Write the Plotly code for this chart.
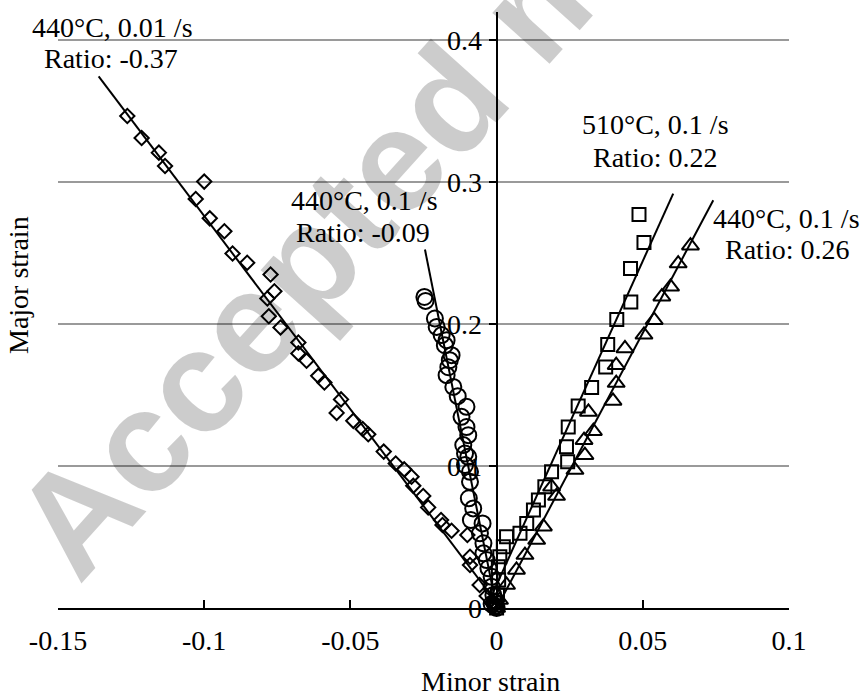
import plotly.graph_objects as go

# ---------------- data ----------------
# 440°C, 0.01 /s  (diamonds)
d1_minor = [-0.1263, -0.1214, -0.1155, -0.1134, -0.1000, -0.1029, -0.0981, -0.0931, -0.0903, -0.0853,
            -0.0773, -0.0760, -0.0784, -0.0779, -0.0739, -0.0678, -0.0678, -0.0650, -0.0610, -0.0589,
            -0.0532, -0.0547, -0.0490, -0.0458, -0.0439, -0.0386, -0.0345, -0.0316, -0.0291, -0.0285,
            -0.0251, -0.0234, -0.0190, -0.0185, -0.0154, -0.0100, -0.0091, -0.0091, -0.0058, -0.0034,
            -0.0017, -0.0008, 0.0]
d1_major = [0.3467, 0.3312, 0.3209, 0.3115, 0.3005, 0.2882, 0.2746, 0.2655, 0.2498, 0.2433,
            0.2350, 0.2232, 0.2181, 0.2056, 0.1977, 0.1871, 0.1794, 0.1742, 0.1636, 0.1589,
            0.1470, 0.1375, 0.1319, 0.1261, 0.1224, 0.1102, 0.1018, 0.0977, 0.0925, 0.0861,
            0.0789, 0.0709, 0.0620, 0.0585, 0.0544, 0.0514, 0.0361, 0.0303, 0.0162, 0.0085,
            0.0035, 0.0015, 0.0]

# 440°C, 0.1 /s  (circles, ratio -0.09)
c_minor = [-0.0247, -0.0243, -0.0211, -0.0205, -0.0188, -0.0171, -0.0177, -0.0154, -0.0160, -0.0165,
           -0.0171, -0.0148, -0.0133, -0.0103, -0.0120, -0.0103, -0.0097, -0.0114, -0.0108, -0.0097,
           -0.0108, -0.0091, -0.0091, -0.0095, -0.0080, -0.0088, -0.0048, -0.0057, -0.0045, -0.0045,
           -0.0034, -0.0028, -0.0017, -0.0017, -0.0011, -0.0007, -0.0017, -0.0004, 0.0]
c_major = [0.2192, 0.2164, 0.2040, 0.1981, 0.1923, 0.1887, 0.1852, 0.1782, 0.1746, 0.1697,
           0.1641, 0.1558, 0.1493, 0.1418, 0.1347, 0.1275, 0.1218, 0.1148, 0.1089, 0.1065,
           0.1007, 0.0960, 0.0889, 0.0773, 0.0702, 0.0620, 0.0596, 0.0526, 0.0456, 0.0385,
           0.0338, 0.0280, 0.0220, 0.0150, 0.0092, 0.0042, 0.0028, 0.0012, 0.0]

# 510°C, 0.1 /s  (squares, ratio 0.22)
s_minor = [0.0487, 0.0504, 0.0458, 0.0459, 0.0411, 0.0380, 0.0373, 0.0325, 0.0279, 0.0245,
           0.0239, 0.0243, 0.0188, 0.0165, 0.0143, 0.0126, 0.0103, 0.0080, 0.0034, 0.0023,
           0.0011, 0.0006, 0.0007, 0.0003, 0.0, 0.0]
s_major = [0.2773, 0.2575, 0.2392, 0.2157, 0.2033, 0.1857, 0.1699, 0.1554, 0.1423, 0.1276,
           0.1136, 0.1030, 0.0960, 0.0854, 0.0761, 0.0690, 0.0596, 0.0526, 0.0502, 0.0432,
           0.0361, 0.0291, 0.0197, 0.0092, 0.0035, 0.0]

# 440°C, 0.1 /s  (triangles, ratio 0.26)
t_minor = [0.0663, 0.0621, 0.0595, 0.0565, 0.0539, 0.0504, 0.0439, 0.0409, 0.0409, 0.0398,
           0.0314, 0.0331, 0.0299, 0.0302, 0.0268, 0.0188, 0.0205, 0.0160, 0.0137, 0.0097,
           0.0068, 0.0034, 0.0010, 0.0]
t_major = [0.2553, 0.2427, 0.2263, 0.2194, 0.2028, 0.1925, 0.1829, 0.1711, 0.1585, 0.1459,
           0.1382, 0.1246, 0.1183, 0.1077, 0.0972, 0.0854, 0.0789, 0.0573, 0.0479, 0.0373,
           0.0268, 0.0162, 0.0056, 0.0]

# trend lines (end points)
tr1_minor = [0.0014, -0.1361]
tr1_major = [0.0, 0.3746]
tr2_minor = [0.0, -0.0245]
tr2_major = [0.0, 0.2526]
tr3_minor = [-0.0014, 0.0604]
tr3_major = [0.01, 0.292]
tr4_minor = [0.0, 0.0741]
tr4_major = [0.0, 0.2873]

x_ticks = [-0.15, -0.1, -0.05, 0, 0.05, 0.1]
x_ticktext = ["-0.15", "-0.1", "-0.05", "0", "0.05", "0.1"]
y_ticks = [0, 0.1, 0.2, 0.3, 0.4]
y_ticktext = ["0", "0.1", "0.2", "0.3", "0.4"]

labels = [
    ("440°C, 0.01 /s", 112, 27), ("Ratio: -0.37", 111, 58),
    ("440°C, 0.1 /s", 364, 200), ("Ratio: -0.09", 363, 232),
    ("510°C, 0.1 /s", 655, 125), ("Ratio: 0.22", 655, 157),
    ("440°C, 0.1 /s", 786, 218), ("Ratio: 0.26", 787, 249),
]

# ---------------- figure ----------------
W, H = 862, 697
ML, MR, MT, MB = 58, 73, 12, 89
PW, PH = W - ML - MR, H - MT - MB
FONT = "Liberation Serif, Times New Roman, serif"
FS = 28


def px2paper(px, py):
    return (px - ML) / PW, (H - MB - py) / PH


fig = go.Figure()

mk_line = dict(color="black", width=2)
series = [
    (d1_minor, d1_major, "diamond-open", 11),
    (c_minor, c_major, "circle-open", 16),
    (s_minor, s_major, "square-open", 13),
    (t_minor, t_major, "triangle-up-open", 15),
]
for xs, ys, sym, sz in series:
    fig.add_trace(go.Scatter(x=xs, y=ys, mode="markers", cliponaxis=False,
                             marker=dict(symbol=sym, size=sz, color="black", line=mk_line),
                             showlegend=False))

for xs, ys in [(tr1_minor, tr1_major), (tr2_minor, tr2_major),
               (tr3_minor, tr3_major), (tr4_minor, tr4_major)]:
    fig.add_trace(go.Scatter(x=xs, y=ys, mode="lines", cliponaxis=False,
                             line=dict(color="black", width=2), showlegend=False))

annotations = []
# watermark
wx, wy = px2paper(535, 5)
annotations.append(dict(text="<b>Accepted manuscript</b>", xref="paper", yref="paper", x=wx, y=wy,
                        xanchor="center", yanchor="middle", showarrow=False, textangle=-48,
                        font=dict(family="Liberation Sans, Arial, sans-serif", size=145,
                                  color="rgba(0,0,0,0.2)")))
for txt, px, py in labels:
    ax, ay = px2paper(px, py)
    annotations.append(dict(text=txt, xref="paper", yref="paper", x=ax, y=ay,
                            xanchor="center", yanchor="middle", showarrow=False,
                            font=dict(family=FONT, size=FS, color="black")))
tx, ty = px2paper(490, 681)
annotations.append(dict(text="Minor strain", xref="paper", yref="paper", x=tx, y=ty,
                        xanchor="center", yanchor="middle", showarrow=False,
                        font=dict(family=FONT, size=FS, color="black")))
tx, ty = px2paper(18, 285)
annotations.append(dict(text="Major strain", xref="paper", yref="paper", x=tx, y=ty,
                        xanchor="center", yanchor="middle", showarrow=False, textangle=-90,
                        font=dict(family=FONT, size=FS, color="black")))

fig.update_layout(
    width=W, height=H,
    margin=dict(l=ML, r=MR, t=MT, b=MB, pad=0),
    paper_bgcolor="white", plot_bgcolor="white",
    font=dict(family=FONT, size=FS, color="black"),
    showlegend=False,
    annotations=annotations,
    xaxis=dict(range=[-0.15, 0.1], tickmode="array", tickvals=x_ticks, ticktext=x_ticktext,
               showgrid=False, zeroline=False, showline=True, linecolor="black", linewidth=2,
               ticks="inside", ticklen=8, tickwidth=2, tickcolor="black",
               ticklabelstandoff=6, fixedrange=True),
    yaxis=dict(range=[0, 0.42], tickmode="array", tickvals=y_ticks, ticktext=y_ticktext,
               showgrid=True, gridcolor="#9a9a9a", gridwidth=1.5, zeroline=False,
               showline=True, linecolor="black", linewidth=2,
               ticks="outside", ticklen=7, tickwidth=2, tickcolor="black",
               anchor="free", position=0.6, ticklabelstandoff=1, fixedrange=True),
)

fig.write_html("out.html")
